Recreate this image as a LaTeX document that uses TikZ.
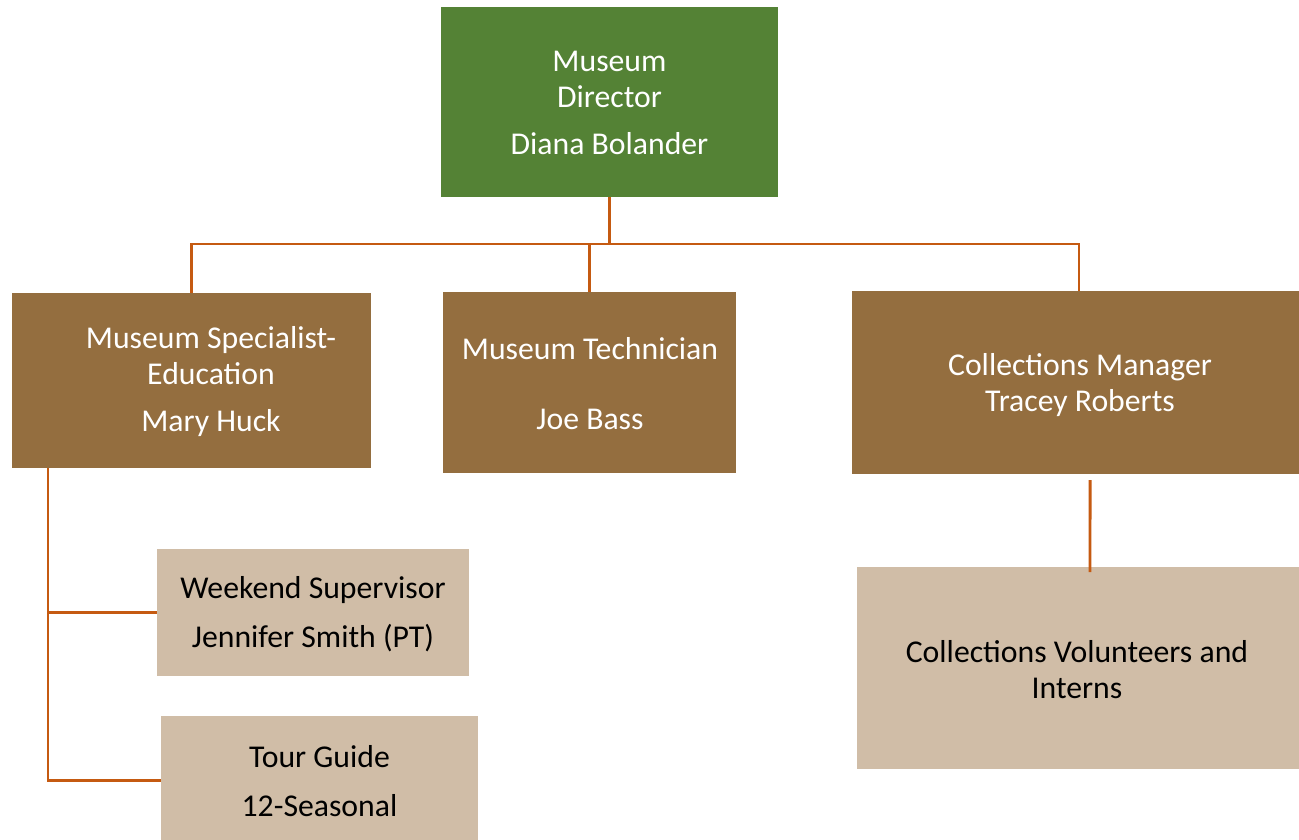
\documentclass[tikz,border=0pt]{standalone}
\usepackage{fontspec}
\setmainfont{Carlito}
\definecolor{dirgreen}{HTML}{548235}
\definecolor{mgrbrown}{HTML}{946E3F}
\definecolor{stafftan}{HTML}{D0BDA7}
\definecolor{linkorange}{HTML}{C55A11}
\begin{document}
\begin{tikzpicture}[x=0.75pt,y=-0.75pt,
  box/.style={rectangle, inner sep=0pt, outer sep=0pt, draw=none},
  dirbox/.style={box, fill=dirgreen},
  mgrbox/.style={box, fill=mgrbrown},
  staffbox/.style={box, fill=stafftan},
  lbl/.style={align=center, font=\fontsize{23.8}{27}\selectfont, inner sep=0pt},
  lightlbl/.style={lbl, text=white},
  darklbl/.style={lbl, text=black},
  link/.style={draw=linkorange, line width=2.2pt}]
\useasboundingbox (0,0) rectangle (1299,839);
\fill[white] (0,0) rectangle (1299,839);

% boxes
\node[dirbox, minimum width=252.75pt, minimum height=142.5pt] (dir) at (609.5,102) {};
\node[mgrbox, minimum width=269.25pt, minimum height=131.25pt] (spec) at (191.5,380.5) {};
\node[mgrbox, minimum width=219.75pt, minimum height=135.75pt] (tech) at (589.5,382.5) {};
\node[mgrbox, minimum width=335.25pt, minimum height=137.25pt] (coll) at (1075.5,382.5) {};
\node[staffbox, minimum width=234pt, minimum height=95.25pt] (week) at (313,612.5) {};
\node[staffbox, minimum width=237.75pt, minimum height=96.75pt] (tour) at (319.5,780.5) {};
\node[staffbox, minimum width=331.5pt, minimum height=151.5pt] (vol) at (1078,668) {};

% connectors
\coordinate (j1) at (609.5,244);
\draw[link] (dir.south) -- (j1) -| ([xshift=2.6pt]coll.north);
\draw[link] (j1) -| (spec.north);
\draw[link] (j1) -| (tech.north);
\draw[link] ([xshift=27pt]spec.south west) |- (week.west);
\draw[link] ([xshift=27pt]spec.south west) |- (tour.west);
\draw[link] ([xshift=10.9pt, yshift=-4.5pt]coll.south) -- ([xshift=9pt, yshift=-3.75pt]vol.north);

% texts
\node[lightlbl] (dirtxt) at (609.5,103) {Museum\\Director\\[8.25pt]Diana Bolander};
\node[lightlbl] (spectxt) at (211,382) {Museum Specialist-\\Education\\[8.25pt]Mary Huck};
\node[lightlbl] (techtxt) at (590,383.5) {Museum Technician\\[25.5pt]Joe Bass};
\node[lightlbl] (colltxt) at (1080,385) {Collections Manager\\Tracey Roberts};
\node[darklbl] (weektxt) at (313,614) {Weekend Supervisor\\[9.75pt]Jennifer Smith (PT)};
\node[darklbl] (tourtxt) at (319.5,781) {Tour Guide\\[9.75pt]12-Seasonal};
\node[darklbl] (voltxt) at (1077,670) {Collections Volunteers and\\Interns};
\end{tikzpicture}
\end{document}
